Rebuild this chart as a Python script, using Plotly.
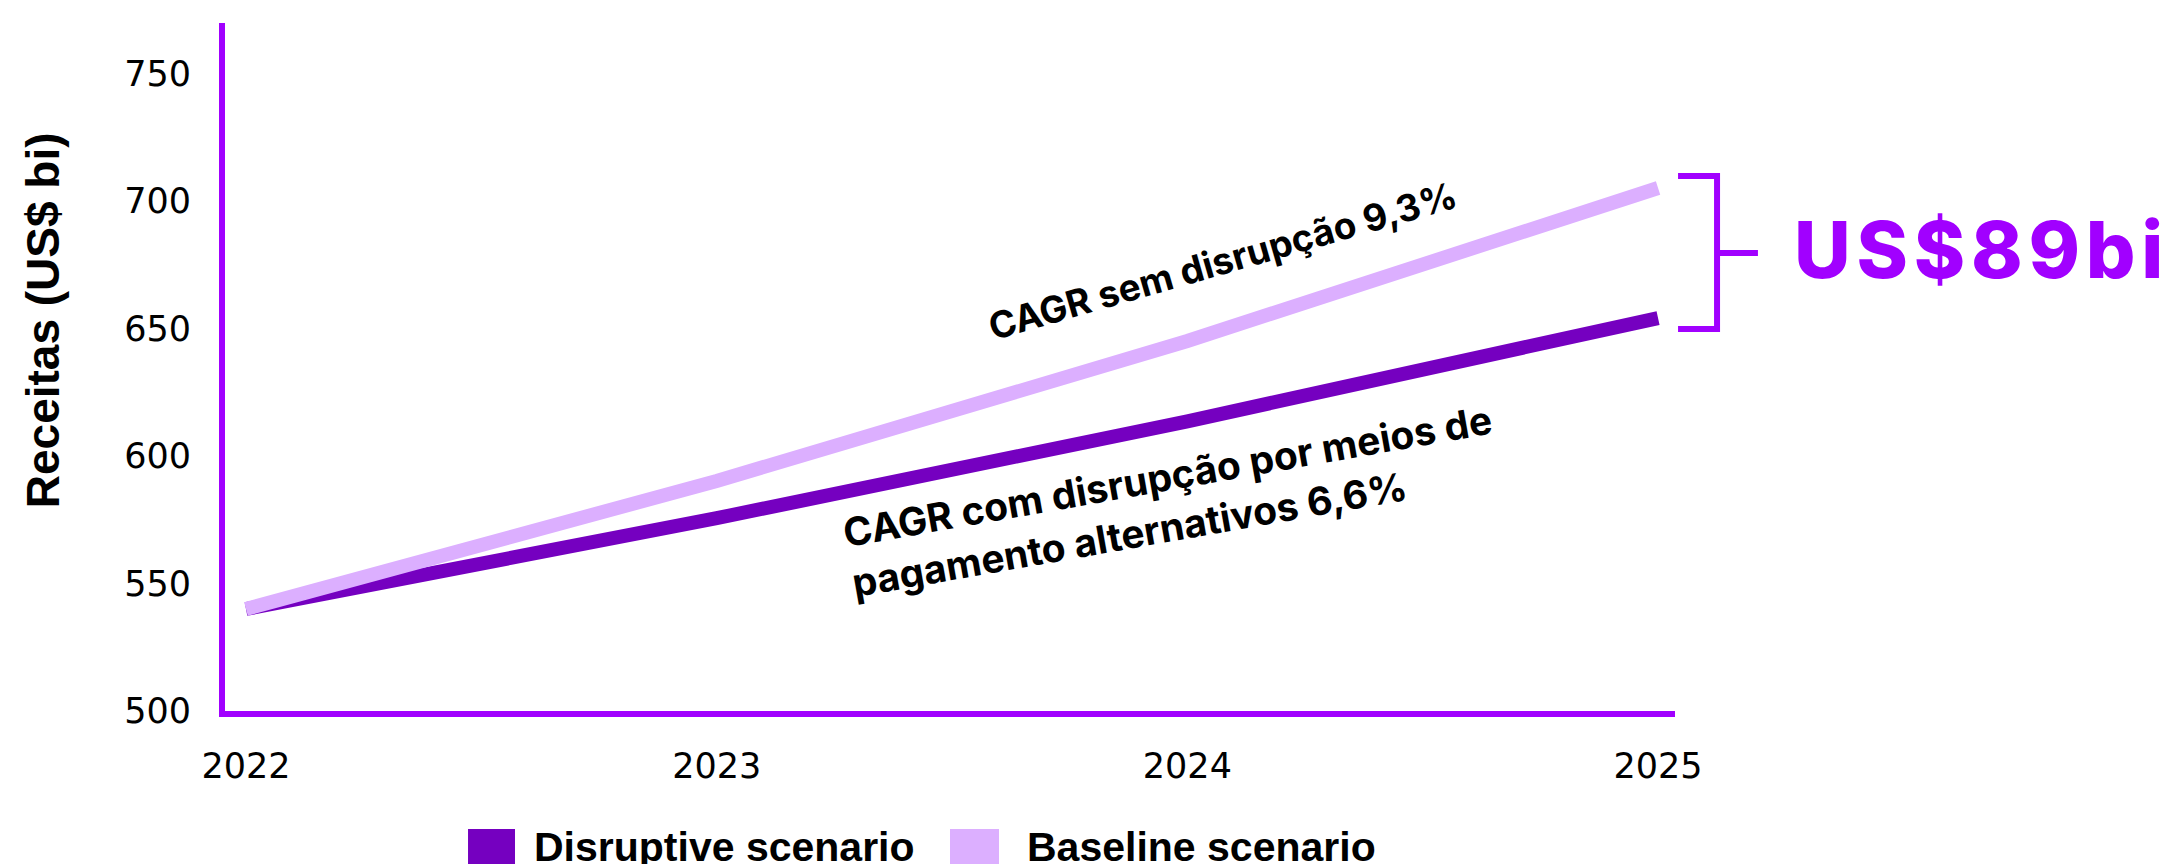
import plotly.graph_objects as go

# ---- data ----
years = [2022, 2023, 2024, 2025]
disruptive = [540.0, 575.6, 613.6, 654.1]
baseline = [540.0, 590.2, 645.1, 705.1]
series_names = ["Disruptive scenario", "Baseline scenario"]
y_ticks = [500, 550, 600, 650, 700, 750]
x_ticks = [2022, 2023, 2024, 2025]
y_title = "Receitas (US$ bi)"
label_baseline = "CAGR sem disrupção 9,3%"
label_disruptive = "CAGR com disrupção por meios de<br>pagamento alternativos 6,6%"
gap_label = "US$89bi"

C_DIS = "#7500C0"
C_BASE = "#DCAFFF"
C_AXIS = "#A100FF"

fig = go.Figure()
fig.add_trace(go.Scatter(x=years, y=disruptive, mode="lines", name=series_names[0],
                         line=dict(color=C_DIS, width=14), showlegend=False))
fig.add_trace(go.Scatter(x=years, y=baseline, mode="lines", name=series_names[1],
                         line=dict(color=C_BASE, width=14), showlegend=False))

tick_font = dict(family="DejaVu Sans", size=35, color="#000000")

fig.update_layout(
    width=2162, height=856,
    margin=dict(l=217, r=495, t=15, b=153),
    paper_bgcolor="white", plot_bgcolor="white",
    xaxis=dict(range=[2021.9554, 2025.036], tickvals=x_ticks, ticktext=[str(v) for v in x_ticks],
               showgrid=False, zeroline=False, showline=True, linecolor=C_AXIS, linewidth=6,
               ticks="", tickfont=tick_font, ticklabelstandoff=19),
    yaxis=dict(range=[500, 769.8], tickvals=y_ticks, showgrid=False, zeroline=False,
               showline=True, linecolor=C_AXIS, linewidth=6, ticks="", tickfont=tick_font,
               ticklabelstandoff=21),
)

ann = []
# y-axis title
ann.append(dict(text=y_title, xref="paper", yref="paper", x=-0.1255, y=0.568,
                textangle=-90, showarrow=False, xanchor="center", yanchor="middle",
                font=dict(family="Liberation Sans", size=46, weight="bold", color="#000000")))
# CAGR labels
ann.append(dict(text=label_baseline, xref="paper", yref="paper", x=0.6882, y=0.655,
                textangle=-16, showarrow=False, xanchor="center", yanchor="middle",
                font=dict(family="Inter", size=37, weight=700, color="#000000")))
ann.append(dict(text=label_disruptive, xref="paper", yref="paper", x=0.6531, y=0.3052,
                textangle=-10, showarrow=False, xanchor="center", yanchor="middle", align="left",
                font=dict(family="Inter", size=39, weight=700, color="#000000")))
# gap label
spaced = "\u200a".join(list(gap_label))
ann.append(dict(text=spaced, xref="paper", yref="paper", x=1.0807, y=0.6715,
                showarrow=False, xanchor="left", yanchor="middle",
                font=dict(family="Inter", size=78, weight=800, color=C_AXIS)))
# custom legend
leg_sq = [(0.1676, 0.2000), (0.5000, 0.5338)]
leg_tx = [0.2117, 0.5517]
leg_col = [C_DIS, C_BASE]
shapes = []
for (x0, x1), tx, col, nm in zip(leg_sq, leg_tx, leg_col, series_names):
    shapes.append(dict(type="rect", xref="paper", yref="paper", x0=x0, x1=x1, y0=-0.2311, y1=-0.1715,
                       fillcolor=col, line=dict(width=0)))
    ann.append(dict(text=nm, xref="paper", yref="paper", x=tx, y=-0.1977, showarrow=False,
                    xanchor="left", yanchor="middle",
                    font=dict(family="Liberation Sans", size=41, weight="bold", color="#000000")))
# bracket
shapes.append(dict(type="path", xref="paper", yref="paper",
                   path="M 1.0021,0.7776 L 1.0290,0.7776 L 1.0290,0.5552 L 1.0021,0.5552",
                   line=dict(color=C_AXIS, width=6)))
shapes.append(dict(type="line", xref="paper", yref="paper", x0=1.0290, x1=1.0572, y0=0.6657, y1=0.6657,
                   line=dict(color=C_AXIS, width=6)))

fig.update_layout(annotations=ann, shapes=shapes)
fig.write_html("out.html")
